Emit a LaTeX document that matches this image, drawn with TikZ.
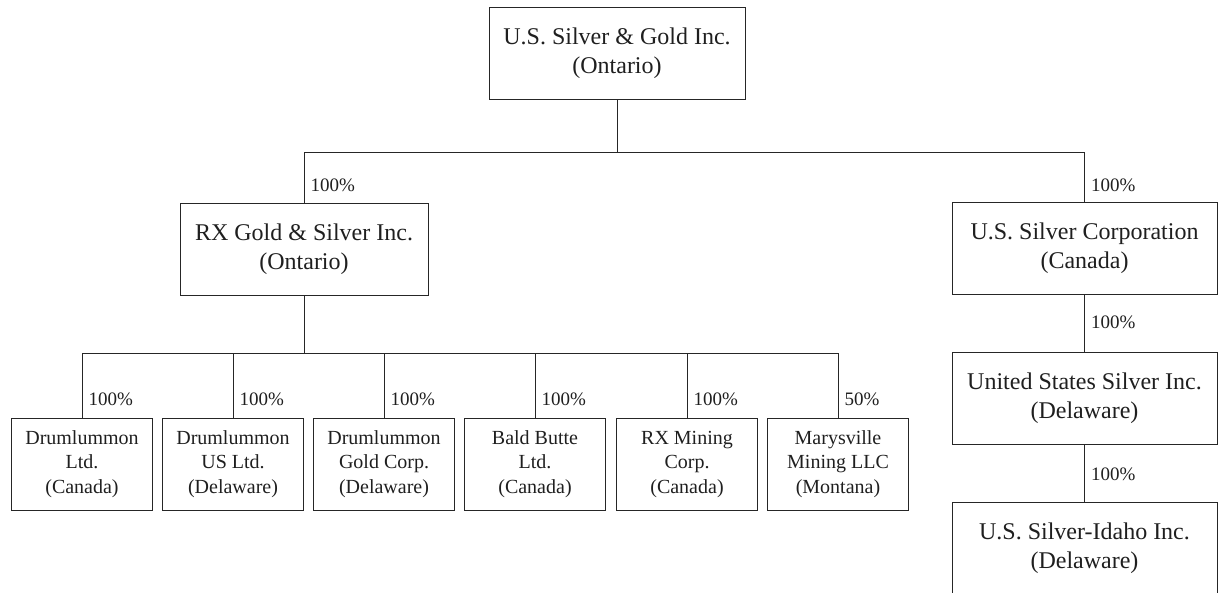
\documentclass[tikz,border=0pt]{standalone}
\usepackage{fontspec}
\setmainfont{Liberation Serif}
\begin{document}
\begin{tikzpicture}[x=1pt,y=-1pt,
  line width=1pt,
  ink/.style={draw=black!85, text=black!88},
  bigbox/.style={ink, rectangle, minimum height=92pt, inner sep=0pt, align=center,
                 font=\fontsize{24}{29}\selectfont},
  smallbox/.style={ink, rectangle, minimum width=141pt, minimum height=92pt, inner sep=0pt, align=center,
                 font=\fontsize{20}{24.5}\selectfont},
  pct/.style={anchor=west, inner sep=0pt, text=black!88, font=\fontsize{19}{22}\selectfont},
  wire/.style={draw=black!85}]
\useasboundingbox (0,0) rectangle (1218,592);

% top
\node[bigbox, minimum width=256pt] (top) at (617,53) {U.S. Silver \& Gold Inc.\\(Ontario)};
\node[bigbox, minimum width=248pt] (rx) at (304,249) {RX Gold \& Silver Inc.\\(Ontario)};
\node[bigbox, minimum width=265pt] (usc) at (1084.5,248) {U.S. Silver Corporation\\(Canada)};
\node[bigbox, minimum width=265pt] (ussi) at (1084.5,398) {United States Silver Inc.\\(Delaware)};
\node[bigbox, minimum width=265pt] (idaho) at (1084.5,548) {U.S. Silver-Idaho Inc.\\(Delaware)};

% bottom row
\node[smallbox] (d1) at (82,464) {Drumlummon\\Ltd.\\(Canada)};
\node[smallbox] (d2) at (233,464) {Drumlummon\\US Ltd.\\(Delaware)};
\node[smallbox] (d3) at (384,464) {Drumlummon\\Gold Corp.\\(Delaware)};
\node[smallbox] (d4) at (535,464) {Bald Butte\\Ltd.\\(Canada)};
\node[smallbox] (d5) at (687,464) {RX Mining\\Corp.\\(Canada)};
\node[smallbox] (d6) at (838,464) {Marysville\\Mining LLC\\(Montana)};

% bus coordinates
\coordinate (busA) at (617,152);
\coordinate (busB) at (304,353);

% connectors top level
\draw[wire] (top.south) -- (busA);
\draw[wire] (rx.north) -- (rx.north |- busA) -- (usc.north |- busA) -- (usc.north);
\draw[wire] (usc.south) -- (ussi.north);
\draw[wire] (ussi.south) -- (idaho.north);

% connectors RX subsidiaries
\draw[wire] (rx.south) -- (busB);
\draw[wire] (d1.north) -- (d1.north |- busB) -- (d6.north |- busB) -- (d6.north);
\foreach \n in {d2,d3,d4,d5} \draw[wire] (\n.north) -- (\n.north |- busB);

% percentages
\node[pct] (p-rx) at ([xshift=6pt] rx.north |- 0,185) {100\%};
\node[pct] (p-usc) at ([xshift=6pt] usc.north |- 0,185) {100\%};
\node[pct] (p-ussi) at ([xshift=6pt] ussi.north |- 0,322) {100\%};
\node[pct] (p-idaho) at ([xshift=6pt] idaho.north |- 0,474) {100\%};
\node[pct] (p-d1) at ([xshift=6pt] d1.north |- 0,399) {100\%};
\node[pct] (p-d2) at ([xshift=6pt] d2.north |- 0,399) {100\%};
\node[pct] (p-d3) at ([xshift=6pt] d3.north |- 0,399) {100\%};
\node[pct] (p-d4) at ([xshift=6pt] d4.north |- 0,399) {100\%};
\node[pct] (p-d5) at ([xshift=6pt] d5.north |- 0,399) {100\%};
\node[pct] (p-d6) at ([xshift=6pt] d6.north |- 0,399) {50\%};
\end{tikzpicture}
\end{document}
